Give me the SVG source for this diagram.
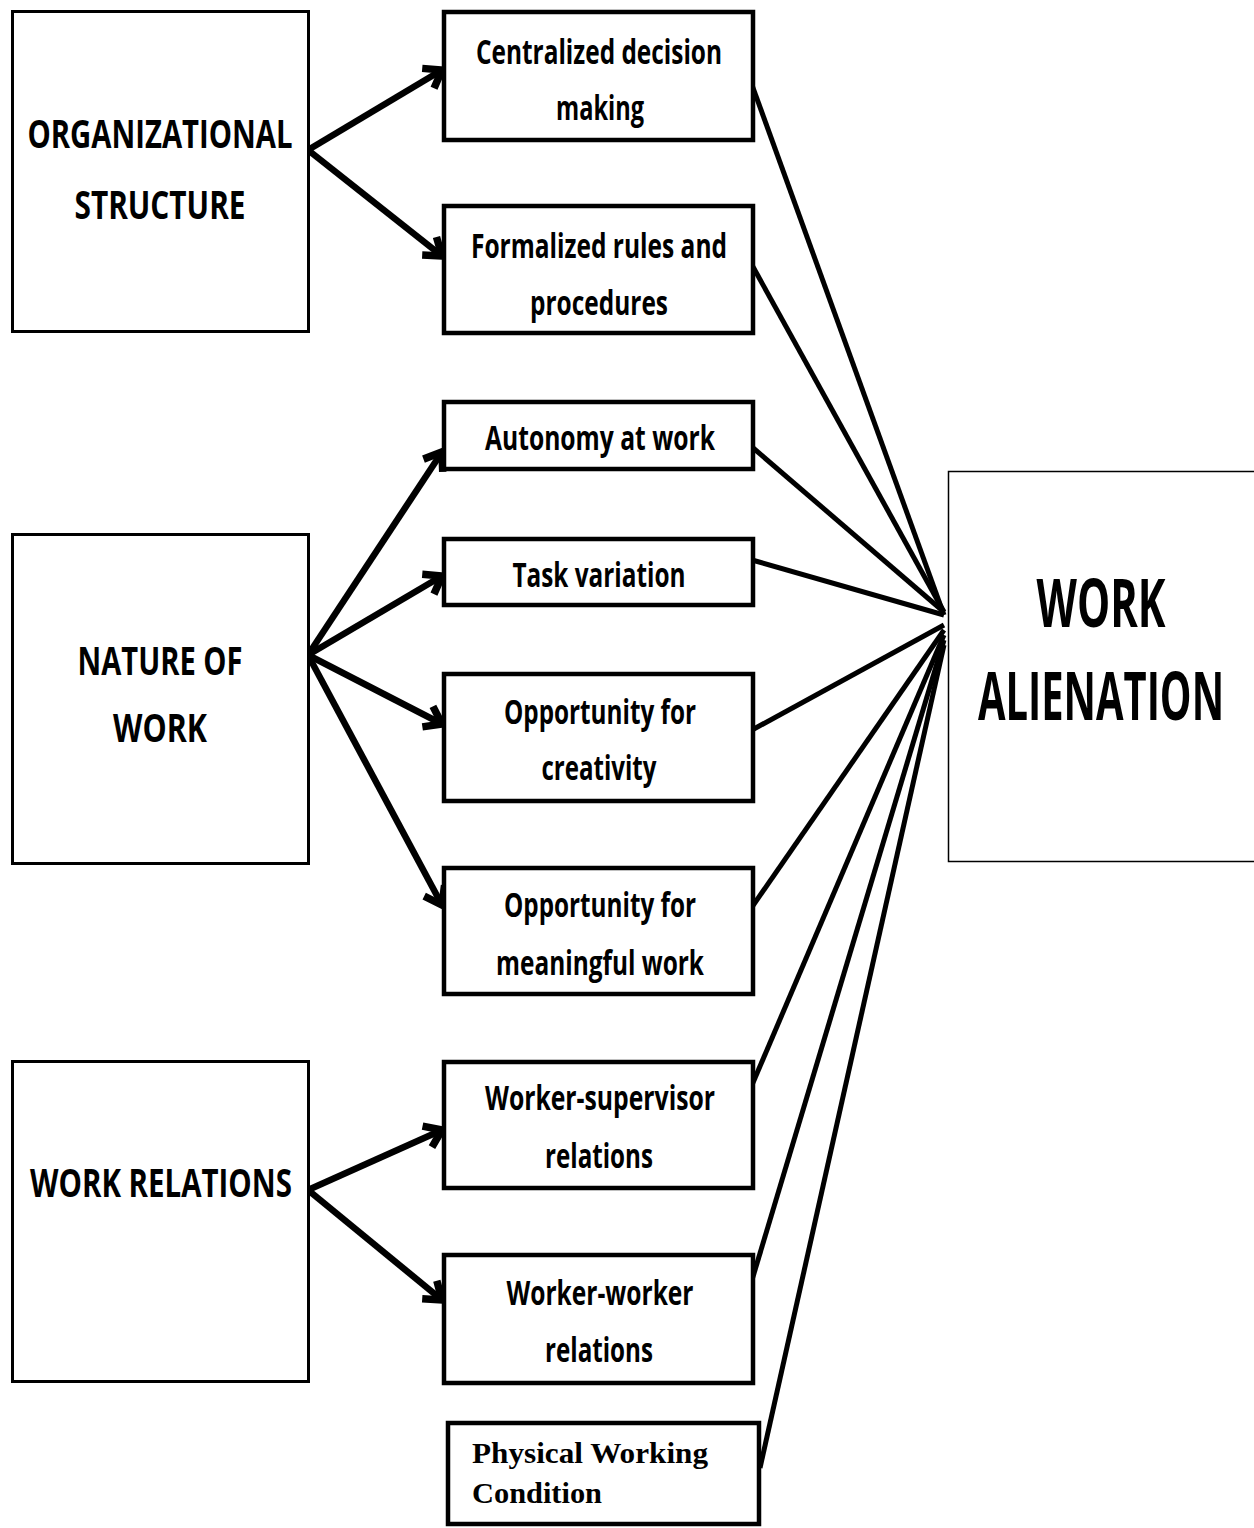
<svg xmlns="http://www.w3.org/2000/svg" width="1254" height="1528" viewBox="0 0 1254 1528">
<style>
.lbox{fill:#fff;stroke:#000;stroke-width:3}
.mbox{fill:#fff;stroke:#000;stroke-width:4.5}
.wbox{fill:#fff;stroke:#000;stroke-width:1.5}
.t{font-family:"Open Sans","Noto Sans","Liberation Sans",sans-serif;font-weight:bold;fill:#000;text-anchor:middle}
.mt{font-size:34px}
.lt{font-size:40px}
.wt{font-size:66px}
.pt{font-family:"Liberation Serif","DejaVu Serif",serif;font-weight:bold;font-size:29px;fill:#000}
.arr{stroke:#000;stroke-width:6.5;fill:none;marker-end:url(#ah)}
.ln{stroke:#000;stroke-width:5;fill:none}
</style>
<defs>
<marker id="ah" markerUnits="userSpaceOnUse" markerWidth="30" markerHeight="30" viewBox="-2 -2 22 26" refX="15" refY="11" orient="auto">
<path d="M1,1 L15,11 L1,21" stroke="#000" stroke-width="6.5" fill="none" stroke-linejoin="miter"/>
</marker>
</defs>
<rect width="1254" height="1528" fill="#fff"/>

<g id="connectors">
<line class="arr" x1="308" y1="150" x2="442" y2="70"/>
<line class="arr" x1="308" y1="150" x2="442" y2="256"/>
<line class="arr" x1="308" y1="655" x2="442" y2="452"/>
<line class="arr" x1="308" y1="655" x2="442" y2="576"/>
<line class="arr" x1="308" y1="655" x2="442" y2="724"/>
<line class="arr" x1="308" y1="655" x2="442" y2="905"/>
<line class="arr" x1="308" y1="1190" x2="442" y2="1130"/>
<line class="arr" x1="308" y1="1190" x2="442" y2="1300"/>
<line class="ln" x1="752" y1="85" x2="944" y2="615"/>
<line class="ln" x1="752" y1="265" x2="944" y2="612"/>
<line class="ln" x1="752" y1="447" x2="944" y2="612"/>
<line class="ln" x1="752" y1="560" x2="944" y2="615"/>
<line class="ln" x1="752" y1="730" x2="944" y2="625"/>
<line class="ln" x1="752" y1="907" x2="944" y2="630"/>
<line class="ln" x1="752" y1="1085" x2="944" y2="635"/>
<line class="ln" x1="752" y1="1280" x2="944" y2="640"/>
<line class="ln" x1="760" y1="1468" x2="944" y2="645"/>
</g>

<g id="org">
<rect class="lbox" x="12.5" y="11.5" width="296" height="320"/>
<text class="t lt" x="160" y="148" textLength="265" lengthAdjust="spacingAndGlyphs">ORGANIZATIONAL</text>
<text class="t lt" x="160" y="219" textLength="171" lengthAdjust="spacingAndGlyphs">STRUCTURE</text>
</g>
<g id="nature">
<rect class="lbox" x="12.5" y="534.5" width="296" height="329"/>
<text class="t lt" x="160" y="675" textLength="165" lengthAdjust="spacingAndGlyphs">NATURE OF</text>
<text class="t lt" x="160" y="742" textLength="94" lengthAdjust="spacingAndGlyphs">WORK</text>
</g>
<g id="relations">
<rect class="lbox" x="12.5" y="1061.5" width="296" height="320"/>
<text class="t lt" x="161" y="1197" textLength="262" lengthAdjust="spacingAndGlyphs">WORK RELATIONS</text>
</g>

<g id="centralized">
<rect class="mbox" x="444" y="12" width="309" height="128"/>
<text class="t mt" x="599" y="64" textLength="246" lengthAdjust="spacingAndGlyphs">Centralized decision</text>
<text class="t mt" x="600" y="120" textLength="88" lengthAdjust="spacingAndGlyphs">making</text>
</g>
<g id="formalized">
<rect class="mbox" x="444" y="206" width="309" height="127"/>
<text class="t mt" x="599" y="258" textLength="256" lengthAdjust="spacingAndGlyphs">Formalized rules and</text>
<text class="t mt" x="599" y="315" textLength="138" lengthAdjust="spacingAndGlyphs">procedures</text>
</g>
<g id="autonomy">
<rect class="mbox" x="444" y="402" width="309" height="67"/>
<text class="t mt" x="600" y="450" textLength="230" lengthAdjust="spacingAndGlyphs">Autonomy at work</text>
</g>
<g id="task">
<rect class="mbox" x="444" y="539" width="309" height="66"/>
<text class="t mt" x="599" y="587" textLength="173" lengthAdjust="spacingAndGlyphs">Task variation</text>
</g>
<g id="creativity">
<rect class="mbox" x="444" y="674" width="309" height="127"/>
<text class="t mt" x="600" y="724" textLength="192" lengthAdjust="spacingAndGlyphs">Opportunity for</text>
<text class="t mt" x="599" y="780" textLength="115" lengthAdjust="spacingAndGlyphs">creativity</text>
</g>
<g id="meaningful">
<rect class="mbox" x="444" y="868" width="309" height="126"/>
<text class="t mt" x="600" y="917" textLength="192" lengthAdjust="spacingAndGlyphs">Opportunity for</text>
<text class="t mt" x="600" y="975" textLength="208" lengthAdjust="spacingAndGlyphs">meaningful work</text>
</g>
<g id="supervisor">
<rect class="mbox" x="444" y="1062" width="309" height="126"/>
<text class="t mt" x="600" y="1110" textLength="230" lengthAdjust="spacingAndGlyphs">Worker-supervisor</text>
<text class="t mt" x="599" y="1168" textLength="108" lengthAdjust="spacingAndGlyphs">relations</text>
</g>
<g id="coworker">
<rect class="mbox" x="444" y="1255" width="309" height="128"/>
<text class="t mt" x="600" y="1305" textLength="187" lengthAdjust="spacingAndGlyphs">Worker-worker</text>
<text class="t mt" x="599" y="1362" textLength="108" lengthAdjust="spacingAndGlyphs">relations</text>
</g>
<g id="physical">
<rect class="mbox" x="448" y="1423" width="311" height="101"/>
<text class="pt" x="472" y="1463" textLength="236" lengthAdjust="spacingAndGlyphs">Physical Working</text>
<text class="pt" x="472" y="1503" textLength="130" lengthAdjust="spacingAndGlyphs">Condition</text>
</g>
<g id="alienation">
<rect class="wbox" x="948.5" y="471.5" width="310" height="390"/>
<text class="t wt" transform="matrix(0.62 0 0 1 1101 627)" x="0" y="0" textLength="208" lengthAdjust="spacingAndGlyphs">WORK</text>
<text class="t wt" transform="matrix(0.62 0 0 1 1101 720)" x="0" y="0" textLength="397" lengthAdjust="spacingAndGlyphs">ALIENATION</text>
</g>
</svg>
